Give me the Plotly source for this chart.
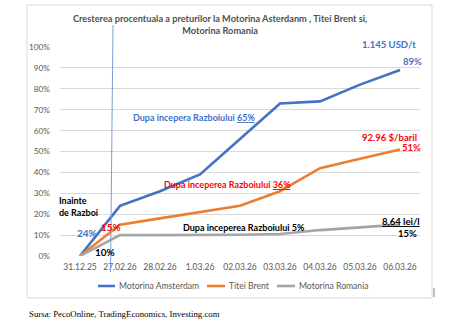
import plotly.graph_objects as go

# Category axis (dates) and percentage growth of each price series
dates = ["31.12.25", "27.02.26", "28.02.26", "1.03.26", "02.03.26",
         "03.03.26", "04.03.26", "05.03.26", "06.03.26"]
amsterdam = [0, 24, 31, 39, 56, 73, 74, 82, 89]
brent = [0, 15, 18, 21, 24, 31, 42, 46.5, 51]
romania = [0, 10, 10, 10, 10.2, 10.5, 12.4, 13.7, 15]

y_ticks = [0, 10, 20, 30, 40, 50, 60, 70, 80, 90, 100]
y_tick_text = [f"{v}%" for v in y_ticks]

series = [
    ("Motorina Amsterdam", amsterdam, "#4472C4"),
    ("Titei Brent", brent, "#ED7D31"),
    ("Motorina Romania", romania, "#A5A5A5"),
]

FONT = "Lato"
GREY_TXT = "#595959"
BLUE = "#4472C4"
RED = "#FF0000"

fig = go.Figure()
for name, vals, color in series:
    fig.add_trace(go.Scatter(
        x=list(range(len(dates))), y=vals, name=name, mode="lines",
        line=dict(color=color, width=2.6), showlegend=False,
    ))

# pixel helpers for the plot area (60..420 x, 47..256 y)
def px_x(p):
    return (p - 60) / 360.0

def px_y(p):
    return (256 - p) / 209.0

shapes = [
    # outer chart frame
    dict(type="rect", xref="paper", yref="paper",
         x0=px_x(27), x1=px_x(432), y0=px_y(298), y1=px_y(5),
         line=dict(color="#D9D9D9", width=1), layer="below"),
    # marker line at the start of the war
    dict(type="line", xref="paper", yref="paper",
         x0=px_x(110.5), x1=px_x(113), y0=px_y(272), y1=px_y(25),
         line=dict(color="#7F9ED4", width=1)),
    # small tick beside the frame
    dict(type="line", xref="paper", yref="paper",
         x0=px_x(434), x1=px_x(434), y0=px_y(297), y1=px_y(288),
         line=dict(color="#808080", width=1)),
]

def note(text, x, y, color, size=9.5, ref="data", **kw):
    d = dict(text=text, x=x, y=y, showarrow=False,
             xanchor=kw.pop("xanchor", "center"), yanchor="middle",
             font=dict(family=FONT, size=size, color=color), **kw)
    if ref == "data":
        d.update(xref="x", yref="y")
    else:
        d.update(xref="paper", yref="paper")
    return d

annotations = [
    note("<b>Cresterea procentuala a preturilor la Motorina Asterdanm , Titei Brent si,</b>"
         "<br><b>Motorina Romania</b>", px_x(220), px_y(25), "#505050", size=9.2, ref="paper"),
    note("<b>1.145 USD/t</b>", px_x(389), px_y(45), BLUE, ref="paper"),
    note("<b>89%</b>", 8.3, 93.3, BLUE),
    note("<b>Dupa incepera Razboiului <u>65%</u></b>", 2.85, 66.5, BLUE, size=9),
    note("<b>Dupa inceperea Razboiului <u>36%</u></b>", 3.69, 34.0, RED, size=9),
    note("<b>Dupa inceperea Razboiului 5%</b>", 4.09, 13.4, "#000000", size=9),
    note("<b>92.96 $/baril</b>", 7.725, 56.9, RED),
    note("<b>51%</b>", 8.29, 51.9, RED),
    note("<b><u>8,64 lei/l</u></b>", 8.025, 16.4, "#000000"),
    note("<b>15%</b>", 8.175, 11.0, "#000000"),
    note("<b>Inainte<br>de Razboi</b>", px_x(57), px_y(206), "#000000", size=9,
         ref="paper", xanchor="left", align="left"),
    note("<b>24%</b>", 0.1625, 11.1, BLUE, size=10),
    note("<b>15%</b>", 0.7625, 14.0, RED, size=10),
    note("<b>10%</b>", 0.6125, 2.06, "#000000", size=10),
]

# legend drawn as swatches + labels under the axis
legend_pos = [(98, 115, 117), (207, 225, 227), (277, 295, 297)]
for (name, _, color), (x0, x1, xt) in zip(series, legend_pos):
    shapes.append(dict(type="line", xref="paper", yref="paper",
                       x0=px_x(x0), x1=px_x(x1), y0=px_y(286), y1=px_y(286),
                       line=dict(color=color, width=2.6)))
    annotations.append(note(name, px_x(xt), px_y(286), GREY_TXT, size=8.6,
                            ref="paper", xanchor="left"))

src = note("Sursa: PecoOnline, TradingEconomics, Investing.com",
           px_x(27), px_y(314), "#000000", size=8.8, ref="paper", xanchor="left")
src["font"]["family"] = "Liberation Serif"
annotations.append(src)

fig.update_layout(
    width=450, height=336,
    margin=dict(l=60, r=30, t=47, b=80),
    paper_bgcolor="white", plot_bgcolor="white",
    font=dict(family=FONT, color=GREY_TXT),
    shapes=shapes, annotations=annotations,
    showlegend=False,
)
fig.update_xaxes(
    range=[-0.5, len(dates) - 0.5], tickmode="array",
    tickvals=list(range(len(dates))), ticktext=dates,
    showgrid=False, zeroline=False, showline=False, ticks="",
    tickfont=dict(family=FONT, size=8.5, color=GREY_TXT),
    ticklabelstandoff=4,
)
fig.update_yaxes(
    range=[0, 100], tickmode="array", tickvals=y_ticks, ticktext=y_tick_text,
    showgrid=True, gridcolor="#D9D9D9", gridwidth=1, zeroline=False,
    showline=False, ticks="",
    tickfont=dict(family=FONT, size=8.3, color=GREY_TXT),
    ticklabelstandoff=9,
)

fig.write_html("out.html")
